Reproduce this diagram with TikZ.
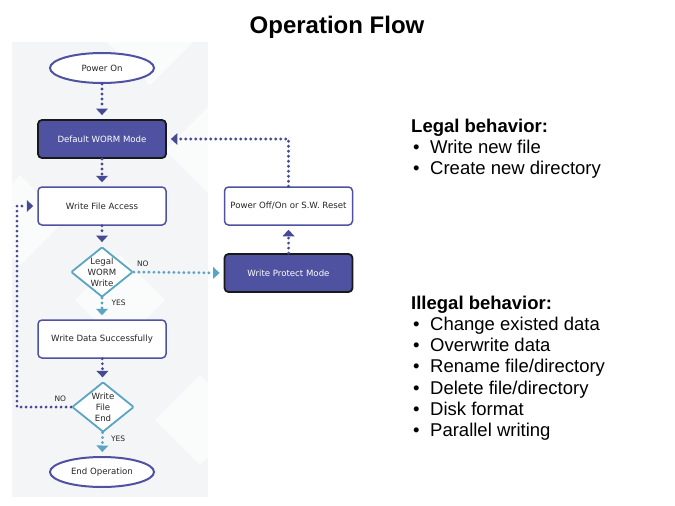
\documentclass[tikz,border=0pt]{standalone}
\usepackage{fontspec}
\setmainfont{Liberation Sans}
\newfontfamily\flowfont{DejaVu Sans}
\usetikzlibrary{shapes.geometric,arrows.meta}
\definecolor{flowblue}{RGB}{78,82,160}
\definecolor{dotblue}{RGB}{70,74,148}
\definecolor{flowteal}{RGB}{90,165,195}
\definecolor{panelgray}{RGB}{244,245,247}
\begin{document}
\begin{tikzpicture}[x=1pt,y=-1pt,
  every node/.style={font=\flowfont\fontsize{8.6}{11}\selectfont,text=black!85,inner sep=0pt},
  endpt/.style={ellipse,draw=flowblue,line width=2pt,fill=white,minimum width=104pt,minimum height=30pt},
  modebox/.style={rounded corners=4pt,draw=black!90,line width=1.8pt,fill=flowblue,text=white,minimum width=128pt,minimum height=38pt},
  actbox/.style={rounded corners=4pt,draw=flowblue,line width=1.5pt,fill=white,minimum width=128pt,minimum height=38pt},
  check/.style={diamond,draw=flowteal,line width=1.8pt,fill=white,rounded corners=1pt,minimum width=62pt,minimum height=50pt},
  flowdot/.style={draw=dotblue,line width=3.2pt,line cap=round,dash pattern=on 0pt off 5pt,shorten >=4pt,-{Triangle[width=12pt,length=6.5pt,line width=0pt]}},
  yesdot/.style={flowdot,draw=flowteal},
  lbl/.style={font=\flowfont\fontsize{7.5}{8}\selectfont},
  slide/.style={font=\fontsize{18.5}{22}\selectfont,text=black,anchor=base west}]
\fill[white](0,0)rectangle(675,506);
\fill[panelgray](12,42)rectangle(208,497);
\begin{scope}
\clip(12,42)rectangle(208,497);
\foreach \cx/\cy in {150/40,210/150,20/220,120/300,200/420}
  \fill[white,opacity=0.6](\cx,\cy-45)--(\cx+45,\cy)--(\cx,\cy+45)--(\cx-45,\cy)--cycle;
\end{scope}
\node[font=\bfseries\fontsize{24}{28}\selectfont,text=black,anchor=base] (title) at (337,33) {Operation Flow};
% flow chart
\node[endpt] (on) at (102,68) {Power On};
\node[modebox] (worm) at (102,139) {Default WORM Mode};
\node[actbox] (access) at (102,206) {Write File Access};
\node[check] (legal) at (102,272) {};
\node[align=center] at (legal) {Legal\\WORM\\Write};
\node[actbox] (data) at (102,339) {Write Data Successfully};
\node[check] (fileend) at (103,407) {};
\node[align=center] at (fileend) {Write\\File\\End};
\node[endpt] (stop) at (102,472) {End Operation};
\node[modebox] (protect) at (288.5,273) {Write Protect Mode};
\node[actbox] (reset) at (288.5,206) {Power Off/On or S.W. Reset};
\draw[flowdot](on)--(worm);
\draw[flowdot](worm)--(access);
\draw[flowdot](access)--(legal);
\draw[yesdot](legal)--(data)node[lbl,near start,right=8pt]{YES};
\draw[flowdot](data)--(fileend);
\draw[yesdot](fileend)--(stop)node[lbl,near start,right=7pt]{YES};
\draw[flowdot](fileend.west)--node[lbl,above=4pt,pos=0.2]{NO}(17,407)|-(access.west);
\draw[yesdot](legal.east)--node[lbl,above=4pt,pos=0.1]{NO}(protect.west);
\draw[flowdot](protect)--(reset);
\draw[flowdot](reset.north)|-(worm.east);
% behaviour lists
\node[slide,font=\bfseries\fontsize{18.5}{22}\selectfont] (legalhead) at (411,132) {Legal behavior:};
\foreach \txt [count=\i] in {Write new file,Create new directory}
  {\node[slide] at (413,{132+21*\i}) {•};\node[slide] at (430,{132+21*\i}) {\txt};}
\node[slide,font=\bfseries\fontsize{18.5}{22}\selectfont] (illegalhead) at (411,309) {Illegal behavior:};
\foreach \txt [count=\i] in {Change existed data,Overwrite data,Rename file/directory,Delete file/directory,Disk format,Parallel writing}
  {\node[slide] at (413,{309+21.3*\i}) {•};\node[slide] at (430,{309+21.3*\i}) {\txt};}
\end{tikzpicture}
\end{document}
